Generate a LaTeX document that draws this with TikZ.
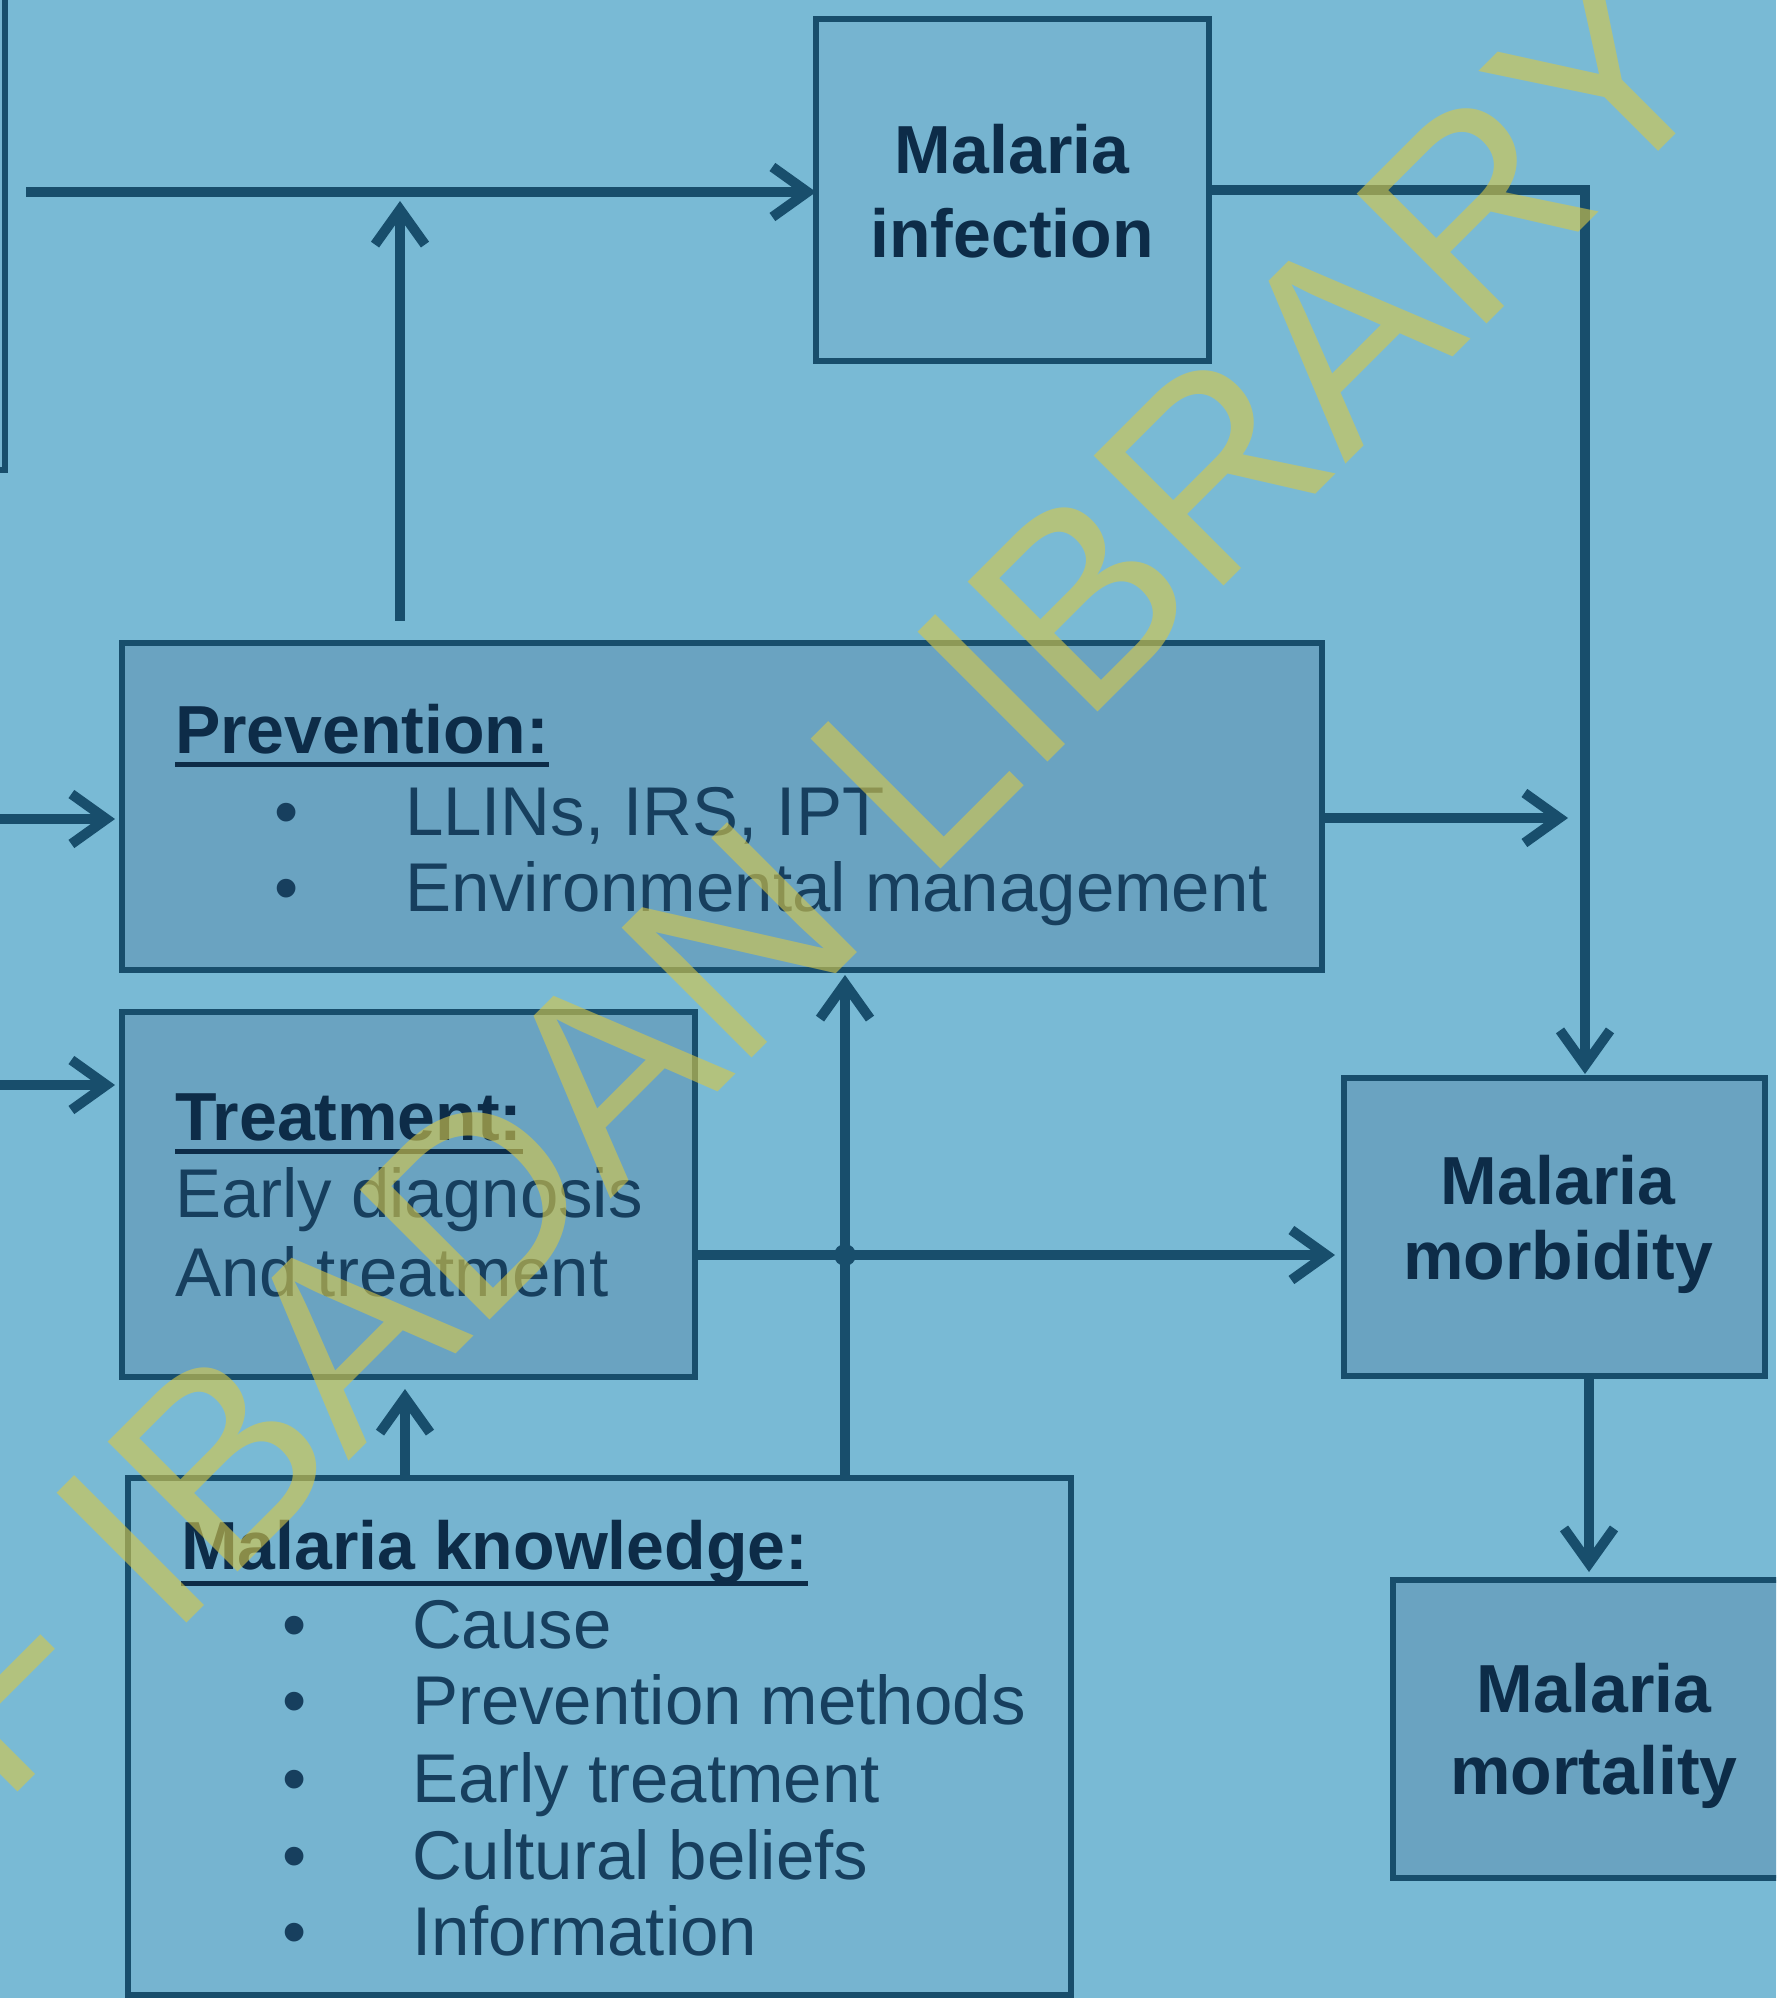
\documentclass[tikz,border=0pt]{standalone}
\usepackage{fontspec}
\setmainfont{Liberation Sans}
\usetikzlibrary{arrows.meta,calc}
\definecolor{bg}{HTML}{79BAD5}
\definecolor{boxa}{HTML}{6AA3C1}
\definecolor{boxb}{HTML}{76B4D0}
\definecolor{ln}{HTML}{184E6C}
\definecolor{txtb}{HTML}{0D2C48}
\definecolor{txtr}{HTML}{173F5E}
\definecolor{wmc}{HTML}{D6C84A}
\begin{document}
\begin{tikzpicture}[x=0.4pt,y=-0.4pt,
  box/.style={draw=ln, line width=2.4pt, rectangle, inner sep=0pt, outer sep=0pt},
  conn/.style={draw=ln, line width=4pt},
  arr/.style={-{Straight Barb[length=14pt,width=20pt]}},
  bt/.style={font=\fontsize{27.2pt}{32pt}\selectfont\bfseries, text=txtb, inner sep=0pt, outer sep=0pt},
  rt/.style={font=\fontsize{27.6pt}{32pt}\selectfont, text=txtr, inner sep=0pt, outer sep=0pt},
  uline/.style={draw=txtb, line width=2pt},
  wm/.style={font=\fontsize{106.8pt}{110pt}\selectfont, text=wmc, text opacity=0.62, inner sep=0pt, outer sep=0pt}
]
\useasboundingbox (0,0) rectangle (1776,1998);
\fill[bg] (0,0) rectangle (1776,1998);
\begin{scope}
\clip (0,0) rectangle (1776,1998);
% boxes
\node[box, fill=boxb, minimum width=122pt, minimum height=204pt] (lbox) at (-147.5,215) {};
\node[box, fill=boxb, minimum width=157.2pt, minimum height=136.8pt] (inf) at (1012.5,190) {};
\node[box, fill=boxa, minimum width=480pt, minimum height=130.8pt] (prev) at (722,806.5) {};
\node[box, fill=boxa, minimum width=229.2pt, minimum height=146pt] (treat) at (408.5,1194.5) {};
\node[box, fill=boxb, minimum width=377.2pt, minimum height=206.8pt] (know) at (599.5,1736.5) {};
\node[box, fill=boxa, minimum width=168.4pt, minimum height=119.2pt] (morb) at (1554.5,1227) {};
\node[box, fill=boxa, minimum width=166.8pt, minimum height=119.2pt] (mort) at (1601.5,1729) {};
% connectors
\coordinate (tl) at (26,192);
\draw[conn,arr] (tl) -- (tl -| inf.west);
\coordinate (pu) at (400,201);
\coordinate (pb) at ([yshift=9pt]prev.north);
\draw[conn,arr] (pb -| pu) -- (pu);
\coordinate (rc) at (1585,190);
\draw[conn,arr,shorten >=1.6pt] (inf.east) -- (rc) -- (rc |- morb.north);
\coordinate (lp) at (-10,819);
\draw[conn,arr,shorten >=2.8pt] (lp) -- (lp -| prev.west);
\coordinate (lt) at (-10,1085);
\draw[conn,arr,shorten >=2.8pt] (lt) -- (lt -| treat.west);
\coordinate (pa) at (1568,818);
\draw[conn,arr] (prev.east |- pa) -- (pa);
\coordinate (j) at (845,1255);
\draw[conn,arr,shorten >=3.6pt] (treat.east |- j) -- (j -| morb.west);
\fill[ln] (j) circle[radius=4.4pt];
\draw[conn,arr,shorten >=2pt] (know.north -| j) -- (prev.south -| j);
\coordinate (kx) at (405,0);
\draw[conn,arr,shorten >=4.8pt] (know.north -| kx) -- (treat.south -| kx);
\coordinate (mx) at (1589,0);
\draw[conn,arr,shorten >=3.2pt] (morb.south -| mx) -- (mort.north -| mx);
% texts
\node[bt, anchor=base] (inf1) at (1012,174) {Malaria};
\node[bt, anchor=base] (inf2) at (1012,258) {infection};
\node[bt, anchor=base west] (ph) at (175,753) {Prevention:};
\draw[uline] ([yshift=-4.4pt]ph.base west) -- ([yshift=-4.4pt]ph.base east);
\node[rt, anchor=base] (pb1) at (287,835) {•};
\node[rt, anchor=base west] (p1) at (405,835) {LLINs, IRS, IPT};
\node[rt, anchor=base] (pb2) at (287,911) {•};
\node[rt, anchor=base west] (p2) at (405,911) {Environmental management};
\node[bt, anchor=base west] (th) at (175,1140) {Treatment:};
\draw[uline] ([yshift=-4.4pt]th.base west) -- ([yshift=-4.4pt]th.base east);
\node[rt, anchor=base west] (t1) at (175,1217) {Early diagnosis};
\node[rt, anchor=base west] (t2) at (175,1296) {And treatment};
\node[bt, anchor=base west] (kh) at (181,1569) {Malaria knowledge:};
\draw[uline] ([yshift=-5.6pt]kh.base west) -- ([yshift=-5.6pt]kh.base east);
\node[rt, anchor=base] (kb1) at (295,1648) {•};
\node[rt, anchor=base west] (k1) at (412,1648) {Cause};
\node[rt, anchor=base] (kb2) at (295,1724) {•};
\node[rt, anchor=base west] (k2) at (412,1724) {Prevention methods};
\node[rt, anchor=base] (kb3) at (295,1802) {•};
\node[rt, anchor=base west] (k3) at (412,1802) {Early treatment};
\node[rt, anchor=base] (kb4) at (295,1879) {•};
\node[rt, anchor=base west] (k4) at (412,1879) {Cultural beliefs};
\node[rt, anchor=base] (kb5) at (295,1955) {•};
\node[rt, anchor=base west] (k5) at (412,1955) {Information};
\node[bt, anchor=base] (mb1) at (1558,1204) {Malaria};
\node[bt, anchor=base] (mb2) at (1558,1279) {morbidity};
\node[bt, anchor=base] (mt1) at (1594,1712) {Malaria};
\node[bt, anchor=base] (mt2) at (1594,1794) {mortality};
% watermark
\node[wm, anchor=base east, rotate=45] (wmk) at (1730,80) {OF IBADAN LIBRARY};
\end{scope}
\end{tikzpicture}
\end{document}
